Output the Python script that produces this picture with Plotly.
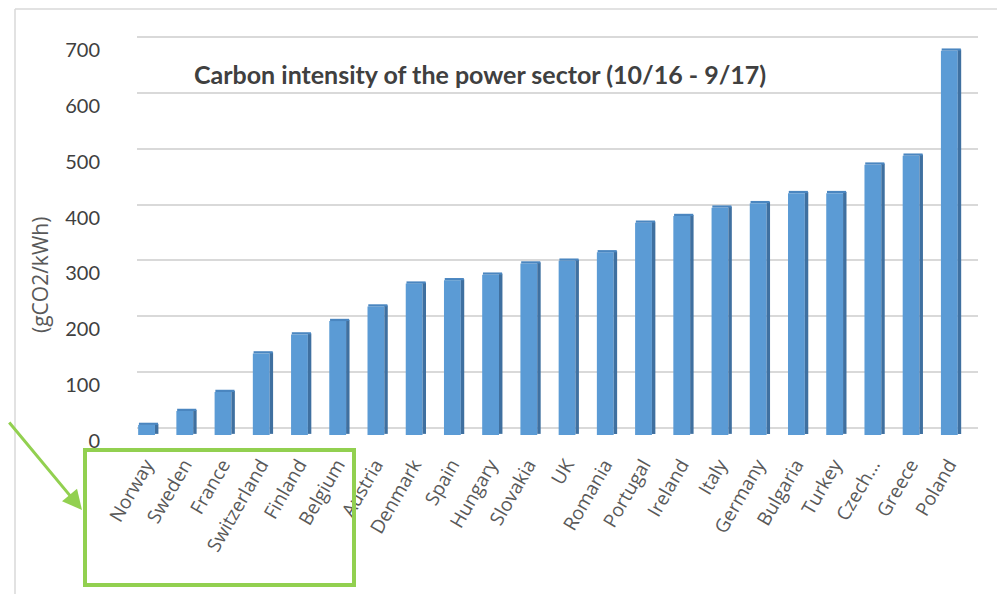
import plotly.graph_objects as go

# data
countries = ["Norway", "Sweden", "France", "Switzerland", "Finland", "Belgium",
             "Austria", "Denmark", "Spain", "Hungary", "Slovakia", "UK", "Romania",
             "Portugal", "Ireland", "Italy", "Germany", "Bulgaria", "Turkey",
             "Czech…", "Greece", "Poland"]
intensity = [18, 43, 77, 146, 180, 204, 230, 271, 277, 287, 307, 312, 327,
             380, 392, 407, 415, 433, 433, 484, 500, 688]
y_ticks = [0, 100, 200, 300, 400, 500, 600, 700]

# the html body has an 8px margin, so page pixels are shifted by OFF
OFF = 8
W, H = 1005 - OFF, 594 - OFF
L, R, T, B = 137 - OFF, 978 - OFF, 35 - OFF, 435 - OFF  # plot area
PX_PER_UNIT = 0.5586
Y_TOP = (B - T) / PX_PER_UNIT


def px_x(p):
    return (p - OFF - L) / (R - L)


def px_y(p):
    return (B - (p - OFF)) / (B - T)


GREEN = "#92D050"
GREY = "#595959"

fig = go.Figure()

# dummy trace so the back-wall gridline axis is rendered
fig.add_trace(go.Scatter(x=[countries[0]], y=[None], yaxis="y2", hoverinfo="skip"))
# front face of the columns
fig.add_trace(go.Bar(x=countries, y=intensity, width=0.44, offset=-0.47,
                     marker=dict(color="#5B9BD5", line_width=0), hoverinfo="x+y"))
# dark side face
fig.add_trace(go.Bar(x=countries, y=intensity, width=0.09, offset=-0.03, base=2,
                     marker=dict(color="#3F70A0", line_width=0), hoverinfo="skip"))
# top cap
fig.add_trace(go.Bar(x=countries, y=[4] * len(countries), base=intensity,
                     width=0.5, offset=-0.45,
                     marker=dict(color="#4A86C0", line_width=0), hoverinfo="skip"))

fig.update_layout(
    width=W, height=H,
    margin=dict(l=L, r=W - R, t=T, b=H - B),
    paper_bgcolor="white", plot_bgcolor="white",
    showlegend=False, barmode="overlay",
    font=dict(family="Lato", color=GREY),
    xaxis=dict(range=[-0.5, 21.5], showgrid=False, showline=False, zeroline=False,
               tickangle=-60, ticks="", ticklabelstandoff=14, ticklabelshift=-10,
               tickfont=dict(family="Open Sans", size=19, color=GREY)),
    # main axis: 0 sits at the front of the 3D floor
    yaxis=dict(range=[0, Y_TOP], tickvals=y_ticks, showgrid=False, zeroline=False,
               showline=False, ticks="", ticklabelstandoff=36, ticklabelshift=6,
               tickfont=dict(family="Lato", size=20, color="#404040")),
    # back-wall gridlines, a few pixels higher than the front
    yaxis2=dict(range=[-12.5, Y_TOP - 12.5], overlaying="y", tickvals=y_ticks,
                showticklabels=False, showgrid=True, gridcolor="#D9D9D9",
                gridwidth=2, zeroline=False, showline=False, layer="below traces"),
)

fig.add_annotation(text="Carbon intensity of the power sector (10/16 - 9/17)",
                   xref="paper", yref="paper", x=px_x(480), y=px_y(74),
                   xanchor="center", yanchor="middle", showarrow=False,
                   font=dict(family="Lato", size=25, color="#404040", weight="bold"))
fig.add_annotation(text="(gCO2/kWh)", textangle=-90, xref="paper", yref="paper",
                   x=px_x(40), y=px_y(275), xanchor="center", yanchor="middle",
                   showarrow=False, font=dict(family="Open Sans", size=21, color=GREY))

# green highlight box and arrow
fig.add_shape(type="rect", xref="paper", yref="paper",
              x0=px_x(85), x1=px_x(354), y0=px_y(450), y1=px_y(585),
              line=dict(color=GREEN, width=4))
fig.add_annotation(text="", xref="paper", yref="paper", x=px_x(82), y=px_y(510),
                   ax=-90, ay=-89, showarrow=True, arrowhead=2, arrowsize=1.3,
                   arrowwidth=3, arrowcolor=GREEN)

# chart frame edges
fig.add_shape(type="line", xref="paper", yref="paper",
              x0=px_x(15), x1=px_x(15), y0=px_y(9), y1=px_y(600),
              line=dict(color="#D9D9D9", width=1.5))
fig.add_shape(type="line", xref="paper", yref="paper",
              x0=px_x(15), x1=px_x(1003), y0=px_y(9), y1=px_y(9),
              line=dict(color="#D9D9D9", width=1.5))

fig.write_html("out.html")
